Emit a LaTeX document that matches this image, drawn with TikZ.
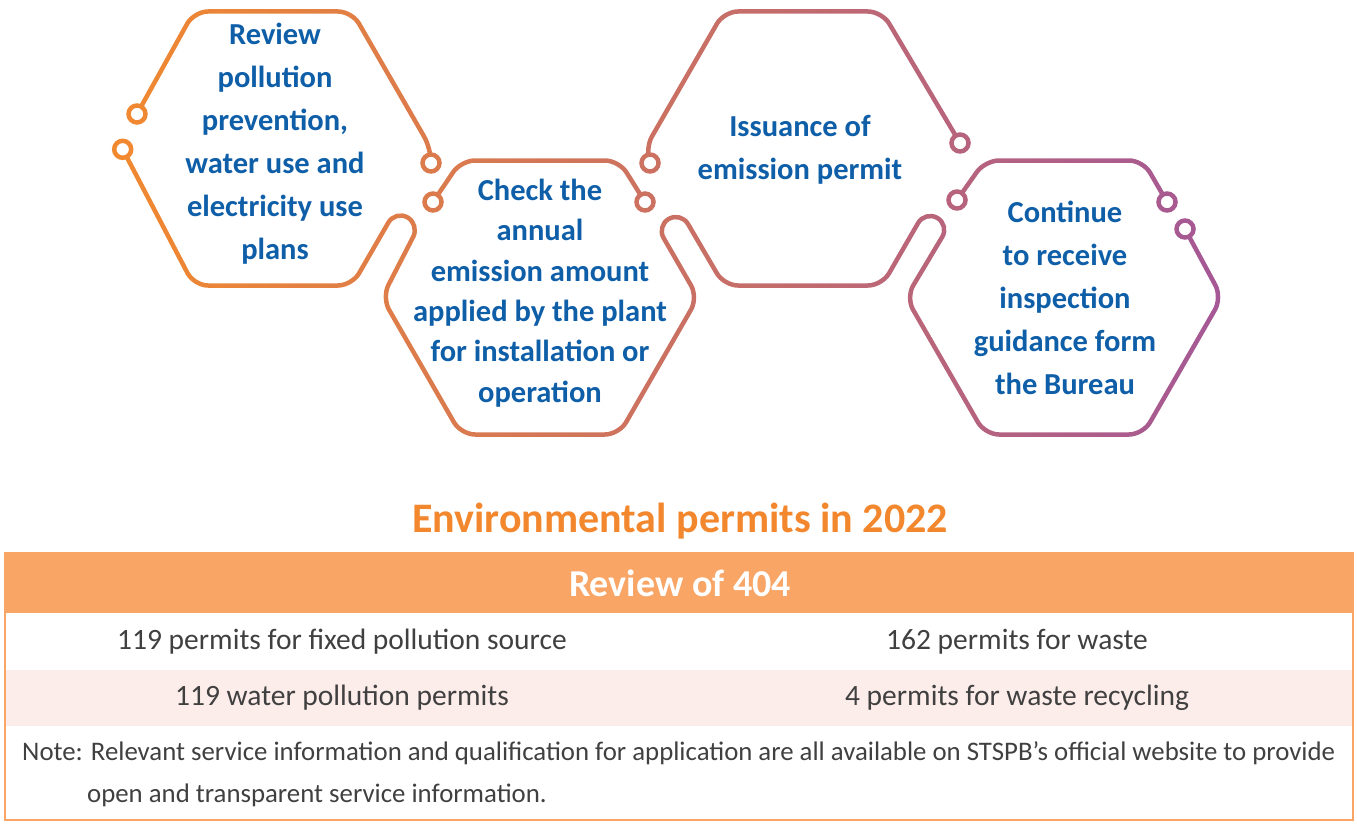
\documentclass[tikz,border=0pt]{standalone}
\usepackage{fontspec}
\setmainfont{Carlito}
\usetikzlibrary{calc, positioning}
\definecolor{hexorange}{RGB}{242,138,46}
\definecolor{hexpurple}{RGB}{163,87,151}
\definecolor{stepblue}{RGB}{14,94,168}
\definecolor{titleorange}{RGB}{243,135,45}
\definecolor{headfill}{RGB}{248,165,102}
\definecolor{rowpink}{RGB}{253,237,234}
\definecolor{bodygray}{RGB}{64,64,64}
\tikzstyle{outline} = [line width=4.5pt, line join=round, line cap=round, rounded corners=14pt]
\tikzstyle{knob} = [line width=4.5pt, fill=white]
\tikzstyle{steptext} = [text=stepblue, font=\bfseries\fontsize{30.5}{43}\selectfont, align=center]
\tikzstyle{celltext} = [text=bodygray, font=\fontsize{29.5}{32}\selectfont]

\begin{document}
\begin{tikzpicture}[x=1pt, y=-1pt]
  \fill[white] (0,0) rectangle (1357,824);
  \useasboundingbox (0,0) rectangle (1357,824);

  % corners of the four hexagons
  \foreach \n/\cx/\cy in {a/273/148.5, b/540/297.5, c/803/148.5, d/1064/297.5} {
    \coordinate (\n-R)  at (\cx+158,\cy);
    \coordinate (\n-TR) at (\cx+79,\cy-137);
    \coordinate (\n-TL) at (\cx-79,\cy-137);
    \coordinate (\n-L)  at (\cx-158,\cy);
    \coordinate (\n-BL) at (\cx-79,\cy+137);
    \coordinate (\n-BR) at (\cx+79,\cy+137);
  }

  % outlines, drawn black and tinted below
  \draw[outline] (122.7,149.3) -- (a-BL) -- (a-BR) -- (395.4,210.4) -- (419.6,224.4)
    -- (b-L) -- (b-BL) -- (b-BR) -- (b-R) -- (656.6,225.9) -- (680.9,211.9)
    -- (c-BL) -- (c-BR) -- (925.1,210.9) -- (949.4,224.9)
    -- (d-L) -- (d-BL) -- (d-BR) -- (d-R) -- (1185,229);
  \draw[outline] (137,114) -- (a-TL) -- (a-TR) -- (a-R) -- (431,163);
  \draw[outline] (433,202) -- (b-TL) -- (b-TR) -- (645,202);
  \draw[outline] (650,163) -- (c-L) -- (c-TL) -- (c-TR) -- (960,143);
  \draw[outline] (957,200) -- (d-TL) -- (d-TR) -- (1167,202);
  \foreach \p in {(122.7,149.3), (137,114), (431,163), (433,202), (645,202),
                  (650,163), (960,143), (957,200), (1167,202), (1185,229)}
    \draw[knob] \p circle (8.5);

  % colour ramp over the outlines
  \fill[left color=hexorange, right color=hexpurple, blend mode=screen]
    (100,0) rectangle (1240,450);

  \node[steptext] (review) at (275,144) {Review\\pollution\\prevention,\\water use and\\electricity use\\plans};
  \node[steptext, font=\bfseries\fontsize{30.5}{40.4}\selectfont] (check) at (540,293)
    {Check the\\annual\\emission amount\\applied by the plant\\for installation or\\operation};
  \node[steptext] (issue) at (800,150) {Issuance of\\emission permit};
  \node[steptext] (bureau) at (1065,298) {Continue\\to receive\\inspection\\guidance form\\the Bureau};

  \node[text=titleorange, font=\bfseries\fontsize{42}{46}\selectfont] (title) at (680,521)
    {Environmental permits in 2022};

  % table
  \fill[rowpink] (5,670) rectangle (1353,726);
  \fill[headfill] (5,553) rectangle (1353,613);
  \draw[headfill, line width=2pt] (5,553) rectangle (1353,820);
  \node[text=white, font=\bfseries\fontsize{38}{42}\selectfont] (head) at (680,583) {Review of 404};
  \node[celltext] (fixed) at (342,642) {119 permits for fixed pollution source};
  \node[celltext] (waste) at (1017,642) {162 permits for waste};
  \node[celltext] (water) at (342,698) {119 water pollution permits};
  \node[celltext] (recycle) at (1017,698) {4 permits for waste recycling};
  \node[celltext, font=\fontsize{26.8}{32}\selectfont, anchor=west, inner sep=0pt] (note) at (22,753)
    {Note: Relevant service information and qualification for application are all available on STSPB’s official website to provide};
  \node[celltext, font=\fontsize{26.8}{32}\selectfont, anchor=west, inner sep=0pt] (note2) at (87,795)
    {open and transparent service information.};
\end{tikzpicture}
\end{document}
